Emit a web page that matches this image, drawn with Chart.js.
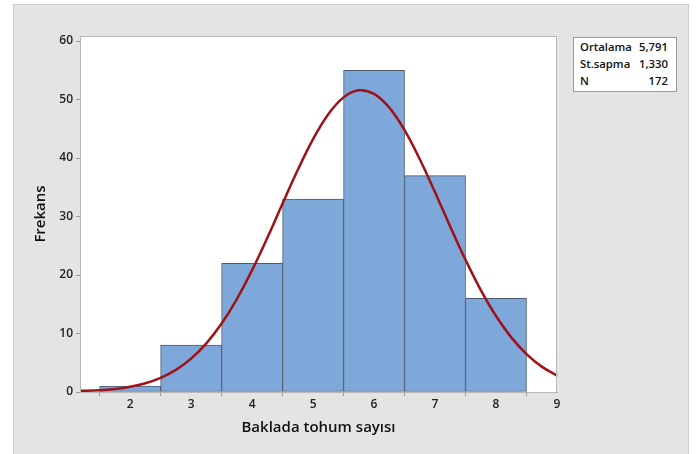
<!DOCTYPE html>
<html>
<head>
<meta charset="utf-8">
<script src="https://cdn.jsdelivr.net/npm/chart.js@4/dist/chart.umd.min.js"></script>
<style>
  html, body { margin: 0; padding: 0; background: #ffffff; }
  #wrap { position: relative; width: 699px; height: 454px; overflow: hidden; }
  #panel { position: absolute; left: 13px; top: 4px; width: 676px; height: 460px;
           background: #e4e4e4; border: 1px solid #cdcdcd; box-sizing: border-box; }
  #c { position: absolute; left: 0; top: 0; }
  #stats { position: absolute; left: 573px; top: 37px; width: 104px; height: 55px;
           background: #fff; border: 1px solid #9a9a9a; box-sizing: border-box;
           font-family: "Open Sans", sans-serif; font-weight: 600; font-size: 11.3px;
           color: #111; padding: 1px 8px 0 6px; }
  #stats .row { display: flex; justify-content: space-between; height: 16.8px; line-height: 16.8px; }
</style>
</head>
<body>
<div id="wrap">
  <div id="panel"></div>
  <canvas id="c" width="699" height="454"></canvas>
  <div id="stats"></div>
</div>
<script>
// Histogram data
const binCenters = [2, 3, 4, 5, 6, 7, 8];
const counts = [1, 8, 22, 33, 55, 37, 16];

// Fitted normal curve
const curveX = [1.18, 1.5, 1.75, 2, 2.25, 2.5, 2.75, 3, 3.25, 3.5, 3.75, 4, 4.25, 4.5, 4.75, 5,
                5.25, 5.5, 5.75, 6, 6.25, 6.5, 6.75, 7, 7.25, 7.5, 7.75, 8, 8.25, 8.5, 8.75, 9];
const curveY = [0.2, 0.28, 0.51, 0.89, 1.49, 2.42, 3.78, 5.71, 8.32, 11.7, 15.89, 20.83, 26.36, 32.21, 37.98, 43.23,
                47.5, 50.37, 51.57, 50.96, 48.61, 44.76, 39.78, 34.13, 28.27, 22.6, 17.43, 12.99, 9.34, 6.48, 4.34, 2.81];

// Axis ticks
const xTicks = [2, 3, 4, 5, 6, 7, 8, 9];
const yTicks = [0, 10, 20, 30, 40, 50, 60];

// Summary box
const statLabels = ["Ortalama", "St.sapma", "N"];
const statValues = ["5,791", "1,330", "172"];

const xTitle = "Baklada tohum sayısı";
const yTitle = "Frekans";

const statsEl = document.getElementById('stats');
statLabels.forEach((l, i) => {
  const r = document.createElement('div');
  r.className = 'row';
  const a = document.createElement('span'); a.textContent = l;
  const b = document.createElement('span'); b.textContent = statValues[i];
  r.appendChild(a); r.appendChild(b);
  statsEl.appendChild(r);
});

const frame = {
  id: 'frame',
  beforeDatasetsDraw(chart) {
    const {ctx, chartArea: a} = chart;
    ctx.save();
    ctx.fillStyle = '#ffffff';
    ctx.fillRect(a.left, a.top, a.right - a.left, a.bottom - a.top);
    ctx.restore();
  },
  afterDraw(chart) {
    const {ctx, chartArea: a} = chart;
    ctx.save();
    ctx.strokeStyle = '#b8b8b8';
    ctx.lineWidth = 1;
    ctx.strokeRect(a.left + 0.5, a.top + 0.5, a.right - a.left - 1, a.bottom - a.top);
    ctx.restore();
  }
};

const tickFont = { family: '"Open Sans", sans-serif', size: 12, weight: '600' };
const titleFont = { family: '"Open Sans", sans-serif', size: 15, weight: '600' };

new Chart(document.getElementById('c'), {
  type: 'bar',
  data: {
    datasets: [
      {
        type: 'line',
        data: curveX.map((x, i) => ({ x: x, y: curveY[i] })),
        borderColor: '#9e1218',
        borderWidth: 2.5,
        pointRadius: 0,
        tension: 0.4,
        fill: false,
        clip: 3,
        order: 0
      },
      {
        type: 'bar',
        data: binCenters.map((x, i) => ({ x: x, y: counts[i] })),
        backgroundColor: '#7ea8da',
        borderColor: '#4c5a6b',
        borderWidth: 1,
        borderSkipped: false,
        barPercentage: 1,
        categoryPercentage: 1,
        order: 1
      }
    ]
  },
  options: {
    responsive: false,
    animation: false,
    plugins: { legend: { display: false }, tooltip: { enabled: false } },
    layout: { padding: { left: 0, top: 36, right: 142, bottom: 0 } },
    scales: {
      x: {
        type: 'linear',
        min: 1.178,
        max: 9,
        offset: false,
        afterBuildTicks(s) { s.ticks = xTicks.map(v => ({ value: v })); },
        afterFit(s) { s.height = 62; },
        ticks: { color: '#222', font: tickFont, padding: 1, maxRotation: 0, autoSkip: false,
                 callback: v => String(v) },
        grid: { drawOnChartArea: false, drawTicks: true, tickLength: 4, color: '#9a9a9a' },
        border: { display: true, color: '#b0b0b0' },
        title: { display: true, text: xTitle, color: '#111', font: titleFont, padding: { top: 0, bottom: 17 } }
      },
      y: {
        min: 0,
        max: 60.86,
        afterBuildTicks(s) { s.ticks = yTicks.map(v => ({ value: v })); },
        afterFit(s) { s.width = 80; },
        ticks: { color: '#222', font: tickFont, padding: 3, callback: v => String(v) },
        grid: { drawOnChartArea: false, drawTicks: true, tickLength: 4, color: '#9a9a9a' },
        border: { display: true, color: '#b0b0b0' },
        title: { display: true, text: yTitle, color: '#111', font: titleFont, padding: { top: 32, bottom: 0 } }
      }
    }
  },
  plugins: [frame]
});
</script>
</body>
</html>
